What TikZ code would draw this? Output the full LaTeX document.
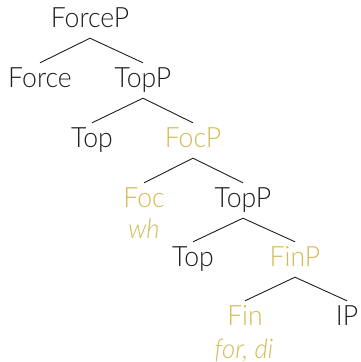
\documentclass[tikz,border=0pt]{standalone}
\usepackage{fontspec}
\setmainfont{Lato Light}[ItalicFont={Lato Light Italic}, FakeStretch=0.95]
\definecolor{treeink}{HTML}{1E1E1E}
\definecolor{focgold}{HTML}{D4BA57}
\begin{document}
\begin{tikzpicture}[x=1pt,y=-1pt,
  lbl/.style={anchor=base, inner xsep=0pt, inner ysep=4pt, text height=20pt, text depth=7pt,
    font=\fontsize{28}{30}\selectfont, text=treeink},
  gold/.style={lbl, text=focgold},
  gloss/.style={anchor=base, inner sep=0pt, font=\fontsize{27}{29}\selectfont\itshape, text=focgold},
  branch/.style={draw=treeink, line width=0.9pt}]
\useasboundingbox (0,0) rectangle (360,362);
\node[lbl]  (forcep) at (90,27)  {ForceP};
\node[lbl]  (force)  at (40,87)  {Force};
\node[lbl]  (topp1)  at (143,87) {TopP};
\node[lbl]  (top1)   at (92,147) {Top};
\node[gold] (focp)   at (193,147) {FocP};
\node[gold] (foc)    at (144,207) {Foc};
\node[gloss] (wh)    at (144,238) {wh};
\node[lbl]  (topp2)  at (243,207) {TopP};
\node[lbl]  (top2)   at (193,266) {Top};
\node[gold] (finp)   at (295,266) {FinP};
\node[gold] (fin)    at (245,325) {Fin};
\node[gloss] (forsdi) at (244,358) {for, di};
\node[lbl]  (ip)     at (347,325) {IP};
\foreach \p/\c in {forcep/force, forcep/topp1, topp1/top1, topp1/focp,
                   focp/foc, focp/topp2, topp2/top2, topp2/finp, finp/fin, finp/ip}
  \draw[branch] (\p.south) -- (\c.north);
\end{tikzpicture}
\end{document}
